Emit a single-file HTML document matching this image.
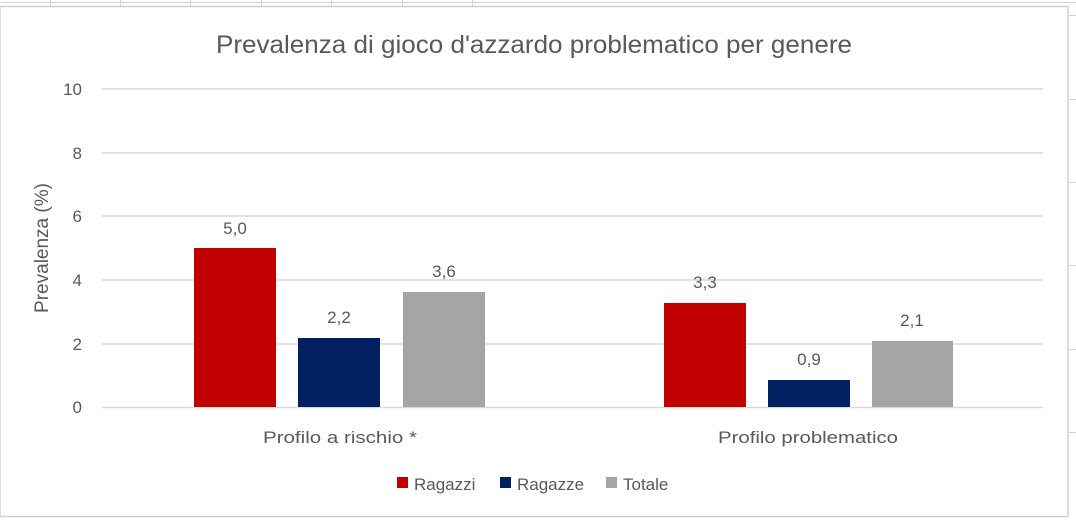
<!DOCTYPE html>
<html><head><style>
body{margin:0;width:1076px;height:518px;overflow:hidden;background:#fff}
text{font-family:"Liberation Sans",sans-serif;fill:#595959}
</style></head><body>
<svg width="1076" height="518" xmlns="http://www.w3.org/2000/svg">
<rect x="0" y="0" width="1076" height="518" fill="#fff"/>
<g stroke="#d4d4d4" stroke-width="1">
<line x1="0" y1="2.5" x2="1076" y2="2.5"/>
<line x1="50.5" y1="0" x2="50.5" y2="6"/><line x1="120.5" y1="0" x2="120.5" y2="6"/>
<line x1="190.5" y1="0" x2="190.5" y2="6"/><line x1="261.5" y1="0" x2="261.5" y2="6"/>
<line x1="331.5" y1="0" x2="331.5" y2="6"/><line x1="402.5" y1="0" x2="402.5" y2="6"/>
<line x1="472.5" y1="0" x2="472.5" y2="6"/>
<line x1="1069" y1="15.5" x2="1076" y2="15.5"/><line x1="1069" y1="99.5" x2="1076" y2="99.5"/>
<line x1="1069" y1="182.5" x2="1076" y2="182.5"/><line x1="1069" y1="265.5" x2="1076" y2="265.5"/>
<line x1="1069" y1="349.5" x2="1076" y2="349.5"/><line x1="1069" y1="432.5" x2="1076" y2="432.5"/>
</g>
<rect x="0" y="6.5" width="1068" height="510" fill="#fff" stroke="#d0d0d0" stroke-width="1.5"/>
<text x="534" y="53" font-size="25" text-anchor="middle" textLength="636" lengthAdjust="spacingAndGlyphs">Prevalenza di gioco d'azzardo problematico per genere</text>
<g stroke="#d9d9d9" stroke-width="1.5">
<line x1="102" y1="89" x2="1043" y2="89"/><line x1="102" y1="153" x2="1043" y2="153"/>
<line x1="102" y1="216" x2="1043" y2="216"/><line x1="102" y1="280" x2="1043" y2="280"/>
<line x1="102" y1="344" x2="1043" y2="344"/><line x1="102" y1="407.5" x2="1043" y2="407.5"/>
</g>
<g font-size="17" text-anchor="end">
<text x="82" y="95">10</text><text x="82" y="159">8</text><text x="82" y="222">6</text>
<text x="82" y="286">4</text><text x="82" y="350">2</text><text x="82" y="413">0</text>
</g>
<text transform="translate(48,248) rotate(-90)" font-size="19" text-anchor="middle">Prevalenza (%)</text>
<rect x="194" y="248" width="82" height="159" fill="#c00000"/>
<rect x="298" y="338" width="82" height="69" fill="#002060"/>
<rect x="403" y="292" width="82" height="115" fill="#a5a5a5"/>
<rect x="664" y="303" width="82" height="104" fill="#c00000"/>
<rect x="768" y="380" width="82" height="27" fill="#002060"/>
<rect x="872" y="341" width="81" height="66" fill="#a5a5a5"/>
<g font-size="17" text-anchor="middle" style="fill:#404040">
<text x="235" y="234">5,0</text><text x="339" y="323">2,2</text><text x="444" y="277">3,6</text>
<text x="705" y="288">3,3</text><text x="809" y="365">0,9</text><text x="912" y="326">2,1</text>
</g>
<g font-size="17" text-anchor="middle">
<text x="340" y="443" textLength="154" lengthAdjust="spacingAndGlyphs">Profilo a rischio *</text>
<text x="808" y="443" textLength="180" lengthAdjust="spacingAndGlyphs">Profilo problematico</text>
</g>
<rect x="397" y="477" width="11" height="11" fill="#c00000"/>
<text x="414" y="490" font-size="17">Ragazzi</text>
<rect x="500" y="477" width="11" height="11" fill="#002060"/>
<text x="517" y="490" font-size="17">Ragazze</text>
<rect x="606" y="477" width="11" height="11" fill="#a5a5a5"/>
<text x="623" y="490" font-size="17">Totale</text>
</svg>
</body></html>
